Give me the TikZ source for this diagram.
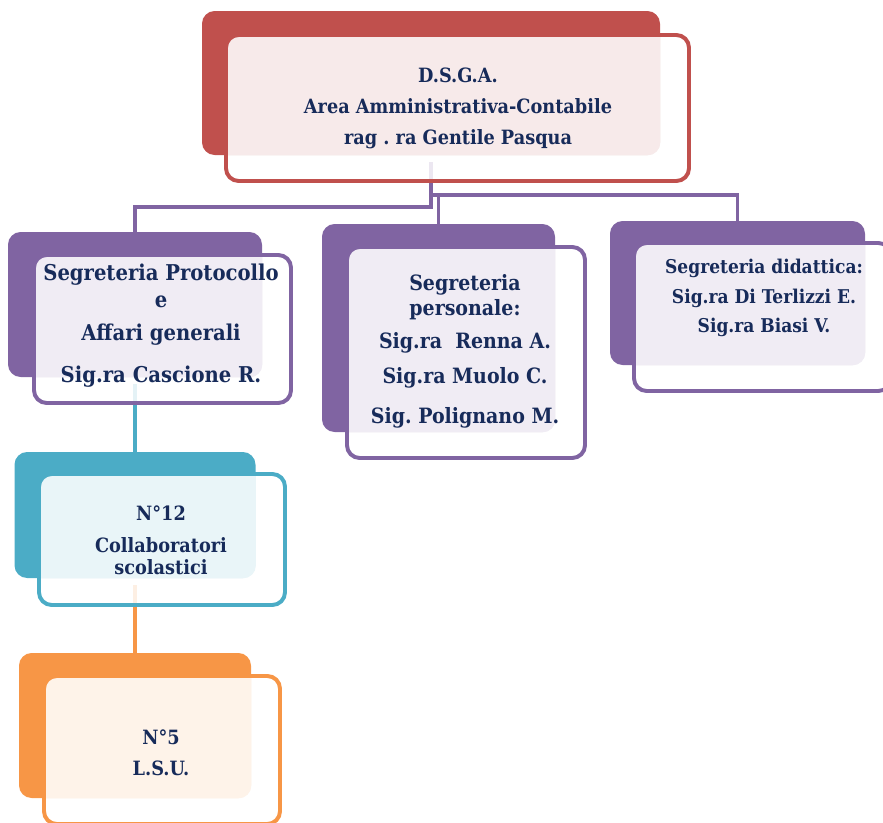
\documentclass[tikz,border=0pt]{standalone}
\usepackage{fontspec}
\setmainfont{DejaVu Serif Condensed}
\usetikzlibrary{positioning}
\frenchspacing

\definecolor{dsgared}{HTML}{C0504D}
\definecolor{segpurple}{HTML}{8064A2}
\definecolor{collteal}{HTML}{4BACC6}
\definecolor{lsuorange}{HTML}{F79646}
\definecolor{navytext}{HTML}{172B5A}

\tikzset{
  backbox/.style n args={3}{fill=#1, rounded corners=9pt, inner sep=0pt,
    minimum width=#2*0.025cm, minimum height=#3*0.025cm},
  frontbox/.style n args={4}{draw=#1, line width=2.8pt, fill=white, fill opacity=0.85,
    rounded corners=9pt, inner sep=0pt, minimum width=#2*0.025cm, minimum height=#3*0.025cm,
    path picture={\fill[#1!12, fill opacity=1, rounded corners=9pt] (#4.south west) rectangle (#4.north east);}},
  link/.style={draw=#1, line width=2.8pt},
  boxtext/.style 2 args={text=navytext, align=center, inner sep=0pt,
    font=\fontsize{#1}{#2}\selectfont\bfseries}
}

\begin{document}
\begin{tikzpicture}[x=0.025cm, y=-0.025cm]
		\useasboundingbox (0,0) rectangle (883,823);
		% back boxes
		\node[backbox={dsgared}{458}{144}] (dsga-b) at (431,83) {};
		\node[backbox={segpurple}{254}{145}] (prot-b) at (135,304.5) {};
		\node[backbox={segpurple}{233}{208}] (pers-b) at (438.5,328) {};
		\node[backbox={segpurple}{255}{144}] (did-b) at (737.5,293) {};
		\node[backbox={collteal}{241}{126}] (coll-b) at (135,515) {};
		\node[backbox={lsuorange}{232}{145}] (lsu-b) at (135,725.5) {};
		% connectors
		\draw[link=segpurple] ([yshift=-5pt]dsga-b.south) |- (prot-b.north |- 0,207) -- (prot-b.north);
		\draw[link=segpurple] ([yshift=-5pt]dsga-b.south) |- (did-b.north |- 0,195) -- (did-b.north);
		\draw[link=segpurple] (pers-b.north |- 0,195) -- (pers-b.north);
		\draw[link=collteal] ([yshift=-5pt]prot-b.south) -- (coll-b.north);
		\draw[link=lsuorange] ([yshift=-5pt]coll-b.south) -- (lsu-b.north);
		% front boxes
		\node[frontbox={dsgared}{463}{146}{dsga-b}] (dsga) at (457.5,108) {};
		\node[frontbox={segpurple}{257}{148}{prot-b}] (prot) at (162.5,329) {};
		\node[frontbox={segpurple}{238}{211}{pers-b}] (pers) at (466,352.5) {};
		\node[frontbox={segpurple}{257}{148}{did-b}] (did) at (762.5,317) {};
		\node[frontbox={collteal}{246}{131}{coll-b}] (coll) at (162,539.5) {};
		\node[frontbox={lsuorange}{236}{148}{lsu-b}] (lsu) at (162,750) {};
		% texts
		\node[boxtext={14}{22}] (dsga-t) at (458,108) {D.S.G.A.\\Area Amministrativa-Contabile\\rag . ra Gentile Pasqua};
		\node[boxtext={15.5}{19}] (prot-t) at (161,326) {Segreteria Protocollo\\e\\[4.5pt]Affari generali\\[11pt]Sig.ra Cascione R.};
		\node[boxtext={15}{18}] (pers-t) at (465,351) {Segreteria\\personale:\\[5.5pt]Sig.ra~~Renna A.\\[7pt]Sig.ra Muolo C.\\[10pt]Sig. Polignano M.};
		\node[boxtext={13.5}{21}] (did-t) at (764,298) {Segreteria didattica:\\Sig.ra Di Terlizzi E.\\Sig.ra Biasi V.};
		\node[boxtext={14}{15.6}] (coll-t) at (161,540) {N°12\\[7pt]Collaboratori\\scolastici};
		\node[boxtext={14}{22}] (lsu-t) at (161,752.5) {N°5\\L.S.U.};
	\end{tikzpicture}
\end{document}
